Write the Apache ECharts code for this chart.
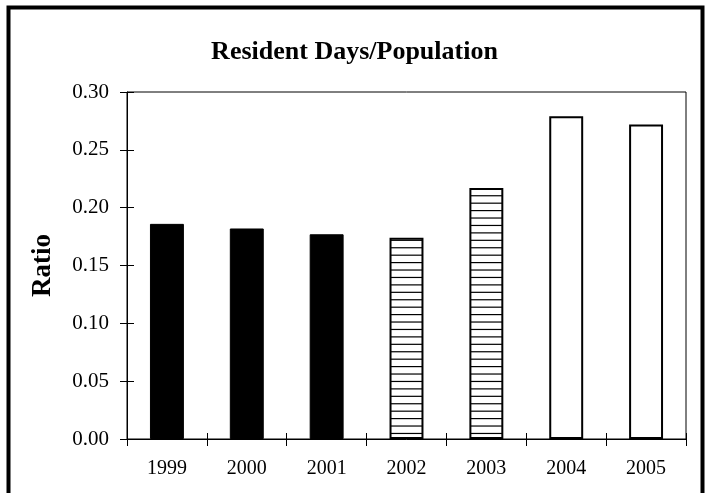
<!DOCTYPE html>
<html>
<head>
<meta charset="utf-8">
<script src="https://cdn.jsdelivr.net/npm/echarts@6/dist/echarts.min.js"></script>
<style>
  html, body { margin: 0; padding: 0; background: #fff; }
  #chart { width: 709px; height: 493px; }
</style>
</head>
<body>
<div id="chart"></div>
<script>
// Resident days per head of population, by year
const years = ['1999', '2000', '2001', '2002', '2003', '2004', '2005'];
const ratios = [0.186, 0.182, 0.177, 0.174, 0.217, 0.279, 0.272];
// fill style for each year: solid, hatched or open
const fillKinds = ['solid', 'solid', 'solid', 'hatch', 'hatch', 'open', 'open'];

const yMin = 0, yMax = 0.30, yStep = 0.05;
const FONT = '"Liberation Serif", "Times New Roman", serif';

// horizontal line hatch tile
function makeHatch() {
  const c = document.createElement('canvas');
  const period = 7.43, n = 7;
  c.width = 8;
  c.height = Math.round(period * n);
  const ctx = c.getContext('2d');
  ctx.fillStyle = '#fff';
  ctx.fillRect(0, 0, c.width, c.height);
  ctx.fillStyle = '#000';
  for (let i = 0; i < n; i++) {
    ctx.fillRect(0, i * period + 2, c.width, 1.2);
  }
  return c;
}
const hatch = makeHatch();

const barData = ratios.map((v, i) => {
  const kind = fillKinds[i];
  let itemStyle;
  if (kind === 'solid') {
    itemStyle = { color: '#000', borderColor: '#000', borderWidth: 1 };
  } else if (kind === 'hatch') {
    itemStyle = { color: { image: hatch, repeat: 'repeat' }, borderColor: '#000', borderWidth: 2 };
  } else {
    itemStyle = { color: '#fff', borderColor: '#000', borderWidth: 2 };
  }
  return { value: v, itemStyle };
});

const chart = echarts.init(document.getElementById('chart'), null, { renderer: 'canvas' });

const axisText = { fontFamily: FONT, color: '#000' };

chart.setOption({
  backgroundColor: '#fff',
  animation: false,
  title: {
    text: 'Resident Days/Population',
    left: 'center',
    top: 34,
    textStyle: { fontFamily: FONT, fontWeight: 'bold', fontSize: 26, color: '#000' }
  },
  graphic: [{
    type: 'rect',
    shape: { x: 8.5, y: 7.5, width: 694, height: 520 },
    style: { fill: null, stroke: '#000', lineWidth: 4 },
    silent: true,
    z: 100
  }],
  grid: {
    left: 127, right: 23, top: 92, bottom: 54,
    show: true, borderColor: '#000', borderWidth: 1, backgroundColor: 'transparent'
  },
  xAxis: [{
    type: 'category',
    data: years,
    position: 'bottom',
    axisLine: { lineStyle: { color: '#000', width: 1 } },
    axisTick: { show: true, length: 7, lineStyle: { color: '#000' } },
    axisLabel: Object.assign({ fontSize: 20, margin: 20 }, axisText),
    splitLine: { show: false }
  }, {
    type: 'category',
    data: years,
    position: 'bottom',
    axisLine: { show: false },
    axisTick: { show: true, inside: true, length: 6, lineStyle: { color: '#000' } },
    axisLabel: { show: false },
    splitLine: { show: false }
  }],
  yAxis: [{
    type: 'value',
    min: yMin, max: yMax, interval: yStep,
    position: 'left',
    name: 'Ratio',
    nameLocation: 'middle',
    nameGap: 70,
    nameRotate: 90,
    nameTextStyle: { fontFamily: FONT, fontWeight: 'bold', fontSize: 27, color: '#000' },
    axisLine: { show: true, lineStyle: { color: '#000', width: 1 } },
    axisTick: { show: true, length: 7, lineStyle: { color: '#000' } },
    axisLabel: Object.assign({ fontSize: 21, margin: 18, formatter: v => v.toFixed(2) }, axisText),
    splitLine: { show: false }
  }, {
    type: 'value',
    min: yMin, max: yMax, interval: yStep,
    position: 'left',
    axisLine: { show: false },
    axisTick: { show: true, inside: true, length: 7, lineStyle: { color: '#000' } },
    axisLabel: { show: false },
    splitLine: { show: false }
  }],
  series: [{
    type: 'bar',
    xAxisIndex: 0,
    yAxisIndex: 0,
    barWidth: '42.5%',
    data: barData
  }]
});
</script>
</body>
</html>
